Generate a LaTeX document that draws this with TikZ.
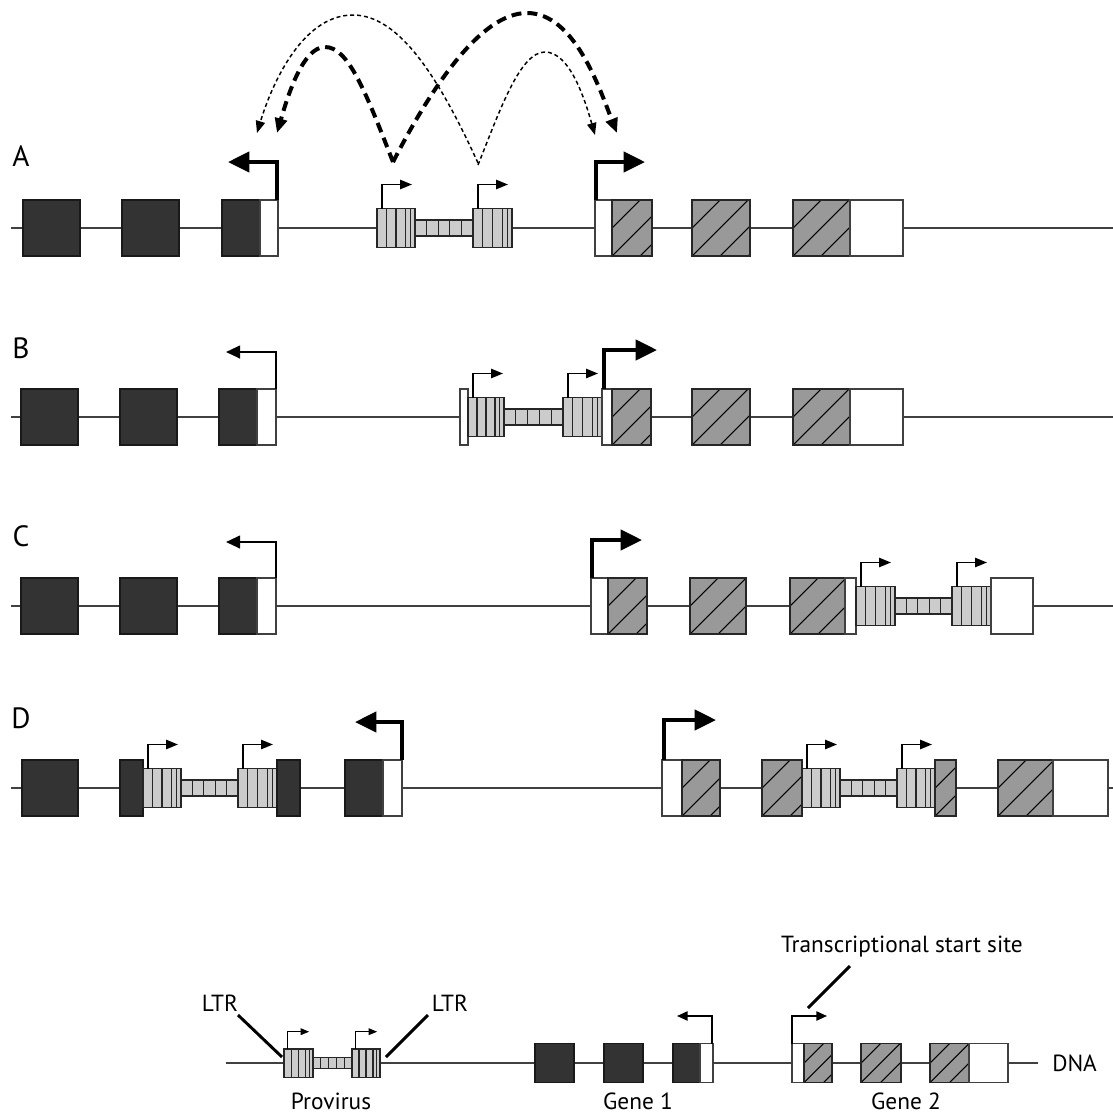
\documentclass[tikz,border=0pt]{standalone}
\usepackage{fontspec}
\setmainfont{PT Sans}
\usetikzlibrary{arrows.meta}
\definecolor{boxblack}{HTML}{333333}
\definecolor{hatchgray}{HTML}{999999}
\definecolor{ltrgray}{HTML}{CCCCCC}
\tikzset{
  dna/.style={draw=black!75, line width=1.4pt},
  blackbox/.style={fill=boxblack, draw=black!90, line width=0.8pt},
  whitebox/.style={fill=white, draw=black!75, line width=0.8pt},
  ltrbox/.style={fill=ltrgray, draw=black!85, line width=0.8pt},
  stripe/.style={draw=black!85, line width=0.8pt},
  hatchline/.style={draw=black, line width=0.8pt},
  boxedge/.style={draw=black!85, line width=0.8pt},
  boldarrow/.style={line width=3pt, line join=miter, -{Triangle[length=16pt,width=15pt]}},
  thinarrow/.style={line width=1.5pt, line join=miter, -{Triangle[length=10.5pt,width=9.5pt]}},
  legarrow/.style={line width=1.2pt, line join=miter, -{Triangle[length=8pt,width=7pt]}},
  smallarrow/.style={line width={#1*1.3pt}, line join=miter, -{Triangle[length=9pt,width=7pt,scale=#1]}},
  thickdash/.style={line width=3pt, dash pattern=on 7.5pt off 4.5pt, -{Triangle[length=11pt,width=9pt]}},
  thindash/.style={line width=1.1pt, dash pattern=on 3pt off 2.2pt, -{Triangle[length=9pt,width=7pt]}},
  rowlabel/.style={font=\fontsize{22}{22}\selectfont, inner sep=0pt},
  legtext/.style={font=\fontsize{17.5}{18}\selectfont, inner sep=0pt},
  pointer/.style={line width=2.2pt}
}
\newcommand{\BB}[4]{\draw[blackbox] (#1,{#3-#4}) rectangle (#2,{#3+#4});}
\newcommand{\WB}[4]{\draw[whitebox] (#1,{#3-#4}) rectangle (#2,{#3+#4});}
\newcommand{\HB}[4]{%
  \fill[hatchgray] (#1,{#3-#4}) rectangle (#2,{#3+#4});
  \begin{scope}
    \clip (#1,{#3-#4}) rectangle (#2,{#3+#4});
    \foreach \k in {-3,...,3}{\draw[hatchline] ({#1+\k*#4},{#3+#4}) -- ++({2*#4},{-2*#4});}
  \end{scope}
  \draw[boxedge] (#1,{#3-#4}) rectangle (#2,{#3+#4});}
\newcommand{\LTRbox}[4]{% x0 x1 yc s
  \draw[ltrbox] (#1,{#3-19.5*#4}) rectangle (#2,{#3+19.5*#4});
  \foreach \f in {0.25,0.5,0.75,0.88}{\draw[stripe] ({#1+\f*(#2-#1)},{#3-19.5*#4}) -- ({#1+\f*(#2-#1)},{#3+19.5*#4});}}
\newcommand{\prov}[6]{% x0 x1 x2 x3 yc s
  \draw[ltrbox] (#2,{#5-8*#6}) rectangle (#3,{#5+8*#6});
  \foreach \f in {0.2,0.4,0.6,0.8}{\draw[stripe] ({#2+\f*(#3-#2)},{#5-8*#6}) -- ({#2+\f*(#3-#2)},{#5+8*#6});}
  \LTRbox{#1}{#2}{#5}{#6}
  \LTRbox{#3}{#4}{#5}{#6}
  \draw[smallarrow=#6] ({#1+5*#6},{#5-19.5*#6}) |- ({#1+35*#6},{#5-43.5*#6});
  \draw[smallarrow=#6] ({#3+5*#6},{#5-19.5*#6}) |- ({#3+35*#6},{#5-43.5*#6});}
\begin{document}
\begin{tikzpicture}[x=0.75pt,y=-0.75pt]
\useasboundingbox (0,0) rectangle (1113,1115);

% ---------- Row A ----------
\node[rowlabel] (lA) at (21,156) {A};
\draw[dna] (11,228) -- (1113,228);
\BB{23}{80}{228}{28} \BB{122}{179}{228}{28} \BB{222}{260}{228}{28} \WB{260}{278}{228}{28}
\prov{377}{415}{473}{512}{228}{1}
\WB{595}{612}{228}{28} \HB{612}{652}{228}{28} \HB{692}{750}{228}{28} \HB{793}{850}{228}{28} \WB{850}{903}{228}{28}
\draw[boldarrow] (277,200) |- (228,162);
\draw[boldarrow] (596,200) |- (645,162);
% dashed long-range arcs
\draw[thickdash] (393,162) .. controls (365,90) and (348,47) .. (325,47) .. controls (303,47) and (288,95) .. (277,133);
\draw[thindash] (478,163) .. controls (440,80) and (400,15) .. (353,15) .. controls (300,15) and (270,90) .. (257,133);
\draw[thickdash] (393,162) .. controls (430,90) and (480,13) .. (527,13) .. controls (575,13) and (600,90) .. (617,133);
\draw[thindash] (478,165) .. controls (500,110) and (520,52) .. (545,52) .. controls (570,52) and (585,100) .. (595,135);

% ---------- Row B ----------
\node[rowlabel] (lB) at (21,348) {B};
\draw[dna] (11,417) -- (1113,417);
\BB{21}{78}{417}{28} \BB{120}{177}{417}{28} \BB{219}{257}{417}{28} \WB{257}{276}{417}{28}
\WB{460}{468}{417}{28}
\prov{468}{504}{563}{602}{417}{1}
\WB{602}{612}{417}{28} \HB{612}{651}{417}{28} \HB{692}{750}{417}{28} \HB{793}{850}{417}{28} \WB{850}{903}{417}{28}
\draw[thinarrow] (276,389) |- (226,352);
\draw[boldarrow] (604,389) |- (657,350);

% ---------- Row C ----------
\node[rowlabel] (lC) at (21,536) {C};
\draw[dna] (11,606) -- (1113,606);
\BB{21}{78}{606}{28} \BB{120}{177}{606}{28} \BB{219}{257}{606}{28} \WB{257}{276}{606}{28}
\WB{591}{608}{606}{28} \HB{608}{647}{606}{28} \HB{690}{746}{606}{28} \HB{790}{845}{606}{28} \WB{845}{856}{606}{28}
\prov{856}{895}{952}{991}{606}{1}
\WB{991}{1033}{606}{28}
\draw[thinarrow] (276,578) |- (226,542);
\draw[boldarrow] (592,578) |- (642,540);

% ---------- Row D ----------
\node[rowlabel] (lD) at (21,718) {D};
\draw[dna] (11,788) -- (1113,788);
\BB{22}{78}{788}{28} \BB{120}{143}{788}{28}
\prov{143}{181}{238}{277}{788}{1}
\BB{277}{300}{788}{28} \BB{345}{383}{788}{28} \WB{383}{402}{788}{28}
\WB{662}{682}{788}{28} \HB{682}{720}{788}{28} \HB{762}{802}{788}{28}
\prov{802}{840}{897}{935}{788}{1}
\HB{935}{956}{788}{28} \HB{998}{1053}{788}{28} \WB{1053}{1108}{788}{28}
\draw[boldarrow] (402,760) |- (355,722);
\draw[boldarrow] (664,760) |- (716,720);

% ---------- Legend ----------
\draw[dna] (226,1063) -- (1038,1063);
\prov{284}{313}{352}{380}{1063}{0.72}
\BB{535}{574}{1063}{19.5} \BB{604}{643}{1063}{19.5} \BB{673}{700}{1063}{19.5} \WB{700}{713}{1063}{19.5}
\WB{792}{804}{1063}{19.5} \HB{804}{832}{1063}{19.5} \HB{861}{901}{1063}{19.5} \HB{930}{969}{1063}{19.5} \WB{969}{1008}{1063}{19.5}
\draw[legarrow] (712,1044) |- (677,1016);
\draw[legarrow] (792,1044) |- (827,1016);

\node[legtext] (ltr1) at (220,1003) {LTR};
\node[legtext] (ltr2) at (450,1003) {LTR};
\coordinate (p1) at (282,1057);
\coordinate (p2) at (386,1057);
\draw[pointer] (238,1015) -- (p1);
\draw[pointer] (428,1015) -- (p2);
\node[legtext] (prov) at (331,1101) {Provirus};
\node[legtext] (g1) at (638,1101) {Gene 1};
\node[legtext] (g2) at (906,1101) {Gene 2};
\node[legtext, anchor=west] (dnal) at (1052,1063) {DNA};
\node[legtext] (tss) at (902,947) {Transcriptional start site};
\coordinate (p3) at (808,1008);
\draw[pointer] (850,966) -- (p3);
\end{tikzpicture}
\end{document}
